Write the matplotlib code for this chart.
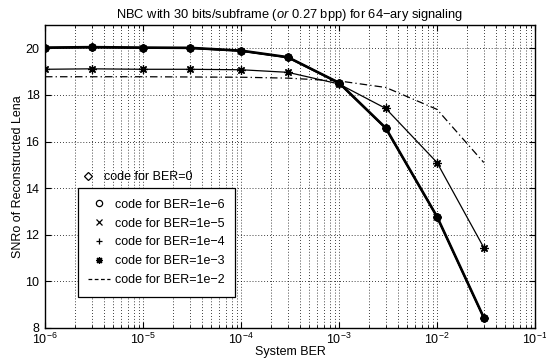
import matplotlib
matplotlib.use("Agg")
import matplotlib.pyplot as plt
from matplotlib.lines import Line2D
import numpy as np

plt.rcParams["font.family"] = ["Liberation Sans", "DejaVu Sans"]
plt.rcParams["mathtext.fontset"] = "custom"
plt.rcParams["mathtext.rm"] = "Liberation Sans"
plt.rcParams["mathtext.it"] = "Liberation Sans:italic"

# System BER at which each code was tested
ber = [1e-6, 3e-6, 1e-5, 3e-5, 1e-4, 3e-4, 1e-3, 3e-3, 1e-2, 3e-2]

# SNR of reconstructed image for codes designed for different BERs
snr_ber0 = [20.03, 20.05, 20.03, 20.02, 19.90, 19.62, 18.52, 16.58, 12.78, 8.45]
snr_1e6 = [20.03, 20.05, 20.03, 20.02, 19.90, 19.62, 18.52, 16.58, 12.78, 8.45]
snr_1e5 = [20.02, 20.04, 20.02, 20.01, 19.89, 19.61, 18.51, 16.57, 12.77, 8.44]
snr_1e4 = [20.01, 20.03, 20.02, 20.00, 19.88, 19.60, 18.50, 16.56, 12.76, 8.43]
snr_1e3 = [19.10, 19.12, 19.10, 19.10, 19.08, 18.97, 18.47, 17.42, 15.10, 11.45]
snr_1e2 = [18.78, 18.78, 18.78, 18.77, 18.76, 18.72, 18.60, 18.32, 17.38, 15.10]

labels = ["code for BER=0", "code for BER=1e\u22126", "code for BER=1e\u22125",
          "code for BER=1e\u22124", "code for BER=1e\u22123", "code for BER=1e\u22122"]

fs = 9
fig = plt.figure(figsize=(5.46, 3.58), dpi=100)
ax = fig.add_axes([45 / 546, 1 - 328 / 358, 490 / 546, 303 / 358])

asterisk = (8, 2, 0)

# thick curve: several codes lying on top of each other
ax.plot(ber, snr_ber0, color="k", lw=1.9, marker="D", ms=4.5, mfc="k")
ax.plot(ber, snr_1e6, color="k", lw=1.0, marker="o", ms=5, mfc="none", mew=1)
ax.plot(ber, snr_1e5, color="k", lw=1.0, marker="x", ms=5, mew=1)
ax.plot(ber, snr_1e4, color="k", lw=1.0, marker="+", ms=5, mew=1)
ax.plot(ber, snr_1e3, color="k", lw=0.9, marker=asterisk, ms=6, mew=0.9)
ax.plot(ber, snr_1e2, color="k", lw=0.9, linestyle=(0, (6, 2.5, 1, 2.5)))

ax.set_xscale("log")
ax.set_xlim(1e-6, 1e-1)
ax.set_ylim(8, 21)
ax.set_yticks([8, 10, 12, 14, 16, 18, 20])

ax.grid(True, which="major", color="k", linestyle=(0, (1, 2.5)), linewidth=0.6)
ax.grid(True, which="minor", axis="x", color="k", linestyle=(0, (1, 2.5)), linewidth=0.6)
ax.tick_params(which="both", direction="in", top=True, right=True, labelsize=fs)
ax.tick_params(which="major", length=4, width=0.8, pad=3)
ax.tick_params(which="minor", length=2, width=0.6)
ax.tick_params(axis="y", which="major", pad=4)
for s in ax.spines.values():
    s.set_linewidth(1.0)

ax.set_title(r"NBC with 30 bits/subframe ($\mathit{or}$ 0.27 bpp) for 64$-$ary signaling",
             fontsize=9.3, pad=5)
ax.set_xlabel("System BER", fontsize=fs, labelpad=-1)
ax.set_ylabel("SNRo of Reconstructed Lena", fontsize=fs, labelpad=1)

# legend: first entry sits above the framed box
h0 = [Line2D([], [], color="none", marker="D", ms=4.5, mfc="none", mec="k", mew=0.9)]
leg0 = ax.legend(h0, labels[:1], loc="center left", bbox_to_anchor=(0.067, 0.497),
                 frameon=False, fontsize=fs, handlelength=1.7, handletextpad=0.4,
                 borderpad=0, borderaxespad=0)
ax.add_artist(leg0)

h1 = [Line2D([], [], color="none", marker="o", ms=4.5, mfc="none", mec="k", mew=0.9),
      Line2D([], [], color="none", marker="x", ms=4.5, mec="k", mew=0.9),
      Line2D([], [], color="none", marker="+", ms=4.5, mec="k", mew=0.9),
      Line2D([], [], color="none", marker=asterisk, ms=5, mec="k", mew=0.9),
      Line2D([], [], color="k", lw=0.9, linestyle=(0, (3, 2)))]
leg1 = ax.legend(h1, labels[1:], loc="upper left", bbox_to_anchor=(0.067, 0.462),
                 frameon=True, fontsize=fs, handlelength=1.7, handletextpad=0.4,
                 borderaxespad=0, borderpad=0.85, labelspacing=0.55, fancybox=False)
leg1.get_frame().set_edgecolor("k")
leg1.get_frame().set_linewidth(0.9)
leg1.get_frame().set_alpha(None)
leg1.get_frame().set_facecolor("white")

fig.savefig("out.png", dpi=100)
